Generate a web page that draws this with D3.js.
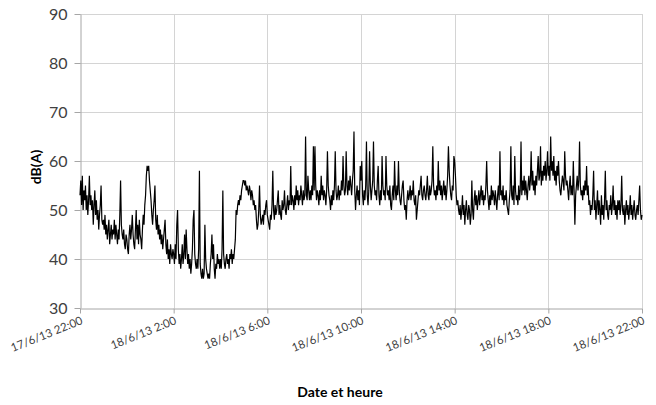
<!DOCTYPE html>
<html>
<head>
<meta charset="utf-8">
<script src="https://cdn.jsdelivr.net/npm/d3@7"></script>
<style>
  body { margin: 0; background: #ffffff; }
  svg { display: block; }
</style>
</head>
<body>
<svg id="chart" width="656" height="405"></svg>
<script>
// Sound level record, one reading every 2 minutes, 17/6/13 22:00 -> 18/6/13 22:00
const startTime = "2013-06-17 22:00";
const stepMinutes = 2;

// one row per hour (30 readings), starting at 22:00
const levels = [
  53, 56, 51, 57, 50, 54, 52, 55, 50, 53, 49, 52, 57, 51, 53, 50, 52, 47, 51, 54, 49, 52, 48, 50, 46, 49, 51, 55, 48, 47,
  48, 46, 49, 45, 47, 44, 46, 48, 43, 45, 47, 44, 46, 45, 48, 44, 47, 45, 43, 46, 44, 49, 56, 47, 45, 44, 46, 43, 42, 45,
  44, 42, 41, 45, 47, 44, 46, 49, 45, 43, 42, 46, 50, 44, 47, 43, 48, 45, 44, 42, 46, 49, 47, 51, 53, 57, 59, 58, 59, 56,
  54, 52, 49, 47, 50, 52, 55, 48, 46, 49, 45, 47, 44, 46, 43, 45, 42, 44, 46, 48, 43, 41, 44, 40, 42, 39, 43, 41, 40, 42,
  41, 39, 43, 40, 47, 50, 42, 39, 41, 38, 40, 43, 39, 41, 45, 40, 46, 42, 39, 41, 38, 40, 37, 39, 42, 48, 50, 41, 39, 38,
  40, 38, 42, 58, 39, 37, 36, 38, 36, 37, 47, 40, 38, 37, 36, 37, 36, 39, 41, 45, 40, 43, 38, 36, 39, 38, 41, 39, 40, 38,
  40, 38, 42, 54, 41, 39, 38, 40, 41, 39, 40, 38, 41, 40, 42, 39, 41, 40, 42, 44, 50, 49, 51, 52, 51, 53, 52, 54, 55, 56,
  56, 55, 56, 54, 55, 54, 53, 55, 54, 52, 54, 53, 51, 52, 50, 51, 48, 46, 47, 50, 55, 49, 47, 48, 49, 47, 50, 49, 51, 52,
  49, 48, 47, 46, 49, 48, 51, 58, 50, 48, 51, 49, 50, 52, 54, 49, 51, 49, 48, 52, 50, 51, 54, 50, 49, 51, 53, 50, 52, 51,
  59, 51, 53, 52, 50, 53, 51, 55, 52, 54, 51, 53, 52, 55, 53, 51, 54, 52, 53, 65, 53, 52, 57, 54, 52, 54, 52, 55, 53, 63,
  54, 63, 55, 52, 54, 53, 51, 54, 52, 57, 53, 55, 52, 54, 53, 51, 54, 62, 55, 53, 52, 50, 53, 51, 54, 52, 55, 62, 54, 52,
  53, 55, 52, 54, 53, 56, 54, 61, 55, 53, 54, 62, 55, 53, 56, 54, 57, 55, 53, 56, 58, 66, 54, 50, 53, 55, 52, 54, 51, 59,
  56, 60, 53, 51, 54, 52, 55, 64, 53, 51, 54, 62, 55, 52, 54, 56, 64, 55, 53, 54, 52, 56, 59, 53, 51, 54, 52, 61, 55, 53,
  54, 52, 61, 55, 53, 54, 52, 55, 51, 50, 53, 55, 52, 60, 54, 52, 55, 53, 60, 54, 52, 51, 53, 55, 56, 52, 50, 51, 48, 52,
  54, 52, 53, 55, 52, 54, 53, 56, 52, 51, 53, 48, 50, 52, 54, 53, 55, 57, 53, 52, 54, 55, 53, 52, 54, 57, 53, 52, 55, 53,
  54, 56, 63, 55, 53, 54, 52, 55, 53, 60, 54, 56, 53, 55, 52, 54, 56, 53, 55, 52, 54, 57, 63, 58, 55, 53, 52, 55, 54, 61,
  60, 57, 53, 51, 52, 50, 49, 51, 48, 50, 53, 49, 51, 47, 50, 52, 49, 48, 51, 50, 47, 49, 56, 50, 48, 52, 54, 51, 53, 50,
  52, 54, 51, 53, 55, 52, 54, 51, 53, 52, 55, 60, 54, 52, 50, 53, 51, 55, 52, 54, 53, 51, 54, 52, 50, 53, 55, 52, 62, 53,
  54, 52, 55, 51, 53, 52, 54, 51, 50, 49, 52, 54, 63, 53, 52, 55, 51, 61, 54, 52, 53, 51, 55, 52, 54, 64, 53, 56, 54, 57,
  53, 56, 54, 52, 55, 57, 54, 56, 62, 55, 58, 54, 56, 53, 57, 55, 58, 61, 56, 57, 63, 55, 58, 56, 59, 57, 60, 56, 58, 62,
  57, 59, 56, 65, 58, 60, 57, 61, 56, 58, 55, 59, 57, 60, 56, 54, 53, 55, 57, 56, 54, 62, 57, 55, 56, 54, 52, 55, 57, 53,
  55, 53, 60, 54, 47, 53, 55, 57, 54, 56, 64, 55, 53, 54, 52, 55, 53, 56, 54, 59, 53, 55, 51, 52, 49, 51, 50, 53, 58, 50,
  52, 48, 51, 54, 49, 52, 50, 47, 53, 49, 51, 48, 52, 58, 50, 52, 49, 48, 51, 50, 53, 49, 51, 55, 50, 52, 49, 51, 48, 52,
  50, 52, 49, 51, 57, 50, 49, 51, 47, 50, 52, 49, 51, 48, 50, 53, 49, 51, 48, 50, 52, 49, 48, 50, 51, 49, 52, 55, 50, 48,
  49
];

const yTicks = [30, 40, 50, 60, 70, 80, 90];
const xTicks = [
  "2013-06-17 22:00", "2013-06-18 02:00", "2013-06-18 06:00",
  "2013-06-18 10:00", "2013-06-18 14:00", "2013-06-18 18:00",
  "2013-06-18 22:00"
];
const yTitle = "dB(A)";
const xTitle = "Date et heure";

const parse = d3.timeParse("%Y-%m-%d %H:%M");
const fmt = d3.timeFormat("%-d/%-m/%y %-H:%M");
const t0 = parse(startTime);
const series = levels.map((v, i) => ({ t: d3.timeMinute.offset(t0, i * stepMinutes), v }));
const tickDates = xTicks.map(parse);

const width = 656, height = 405;
const margin = { top: 14, right: 14, bottom: 97, left: 80 };
const svg = d3.select("#chart");

const x = d3.scaleTime()
  .domain([tickDates[0], tickDates[tickDates.length - 1]])
  .range([margin.left, width - margin.right]);
const y = d3.scaleLinear()
  .domain([30, 90])
  .range([height - margin.bottom, margin.top]);

const gridColor = "#d4d4d4";
const axisColor = "#a6a6a6";
const labelFont = "Lato, 'Open Sans', sans-serif";

// gridlines
svg.append("g")
  .selectAll("line")
  .data(yTicks.filter(d => d > 30))
  .join("line")
  .attr("x1", margin.left).attr("x2", width - margin.right)
  .attr("y1", d => Math.round(y(d)) + 0.5).attr("y2", d => Math.round(y(d)) + 0.5)
  .attr("stroke", gridColor).attr("stroke-width", 1);

svg.append("g")
  .selectAll("line")
  .data(tickDates.slice(1))
  .join("line")
  .attr("x1", d => Math.round(x(d)) + 0.5).attr("x2", d => Math.round(x(d)) + 0.5)
  .attr("y1", margin.top).attr("y2", height - margin.bottom)
  .attr("stroke", gridColor).attr("stroke-width", 1);

// y axis
const yAxis = svg.append("g")
  .attr("transform", `translate(${margin.left + 0.5},0)`)
  .call(d3.axisLeft(y).tickValues(yTicks).tickSize(6).tickPadding(7).tickSizeOuter(0));
yAxis.select(".domain").attr("stroke", axisColor);
yAxis.selectAll(".tick line").attr("stroke", axisColor);
yAxis.selectAll(".tick text")
  .attr("fill", "#404040")
  .style("font-family", labelFont)
  .style("font-size", "16px");

// x axis
const xAxis = svg.append("g")
  .attr("transform", `translate(0,${height - margin.bottom + 0.5})`)
  .call(d3.axisBottom(x).tickValues(tickDates).tickFormat(fmt).tickSize(5).tickSizeOuter(0));
xAxis.select(".domain").attr("stroke", axisColor);
xAxis.selectAll(".tick line").attr("stroke", axisColor);
xAxis.selectAll(".tick text")
  .attr("fill", "#404040")
  .style("font-family", labelFont)
  .style("font-size", "11.5px")
  .attr("text-anchor", "end")
  .attr("x", 0).attr("y", 0).attr("dy", 0)
  .attr("transform", "translate(3,15) rotate(-22)");

// level trace
const line = d3.line()
  .x(d => x(d.t))
  .y(d => y(d.v));
svg.append("path")
  .datum(series)
  .attr("fill", "none")
  .attr("stroke", "#000000")
  .attr("stroke-width", 1.2)
  .attr("d", line);

// axis titles
svg.append("text")
  .attr("transform", "translate(41,167) rotate(-90)")
  .attr("text-anchor", "middle")
  .style("font-family", labelFont)
  .style("font-weight", "bold")
  .style("font-size", "14px")
  .attr("fill", "#000")
  .text(yTitle);

svg.append("text")
  .attr("x", 340).attr("y", 397)
  .attr("text-anchor", "middle")
  .style("font-family", labelFont)
  .style("font-weight", "bold")
  .style("font-size", "14px")
  .attr("fill", "#000")
  .text(xTitle);
</script>
</body>
</html>
